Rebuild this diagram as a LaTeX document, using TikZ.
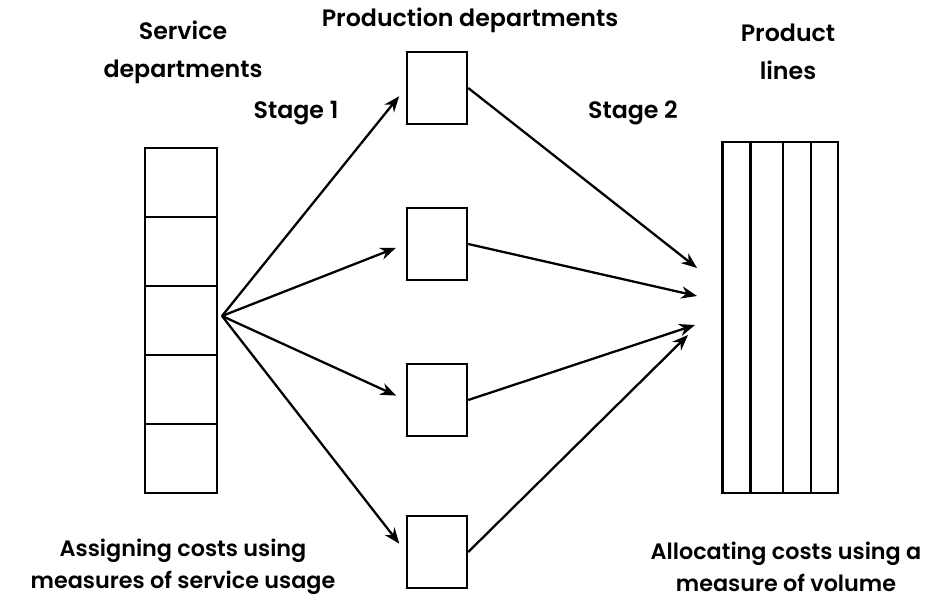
\documentclass[tikz,border=0pt]{standalone}
\usepackage{fontspec}
\setmainfont{Poppins}[BoldFont={Poppins SemiBold}]
\usetikzlibrary{arrows.meta,calc,positioning}
\tikzset{>={Stealth[length=9pt,width=7pt]}}
\tikzstyle{cell}=[rectangle,draw=black,line width=1.4pt,minimum width=1.44cm,minimum height=1.38cm,inner sep=0pt]
\tikzstyle{dept}=[rectangle,draw=black,line width=1.4pt,minimum width=1.2cm,minimum height=1.44cm,inner sep=0pt]
\tikzstyle{prodline}=[rectangle,draw=black,line width=1.4pt,minimum height=7.02cm,inner sep=0pt]
\tikzstyle{label}=[align=center,font=\fontsize{13.5}{21.6}\selectfont\bfseries,inner sep=0pt]
\tikzstyle{note}=[label,font=\fontsize{12.7}{18.4}\selectfont\bfseries]
\tikzstyle{flow}=[->,line width=1.3pt]

\begin{document}
\begin{tikzpicture}[x=0.02cm,y=-0.02cm]
\useasboundingbox (0,0) rectangle (938,601);
\def \cellx {181};
\def \deptx {437};
\def \hgt {69};

% service departments
\foreach \i in {1,...,5} {
	\node[cell] (s\i) at (\cellx, 113.5 + \i * \hgt) {};
};
\coordinate (hub) at (222,316);

% production departments
\foreach \i/\y in {1/88,2/244,3/400,4/552} {
	\node[dept] (b\i) at (\deptx, \y) {};
	\draw[flow,shorten >=6pt] (hub) -- (b\i.west);
};

% product lines
\foreach \i/\x/\w in {1/736.5/28,2/767/32,3/797/28,4/824.5/27} {
	\node[prodline,minimum width=\w*0.02cm] (p\i) at (\x, 317.5) {};
};

\coordinate (t1) at (697,268);
\coordinate (t2) at (697,296);
\coordinate (t3) at (695,325);
\coordinate (t4) at (688,335);
\foreach \i in {1,...,4} {
	\draw[flow] (b\i.east) -- (t\i);
};

% labels
\node[label] (svc) at (183,52) {Service\\departments};
\node[label] (prd) at (470,20) {Production departments};
\node[label] (pl) at (788,52) {Product\\lines};
\node[label] (st1) at (296,113) {Stage 1};
\node[label] (st2) at (633,113) {Stage 2};
\node[note] (asg) at (183,567) {Assigning costs using\\measures of service usage};
\node[note] (alc) at (786,567) {Allocating costs using a\\measure of volume};

\end{tikzpicture}
\end{document}
